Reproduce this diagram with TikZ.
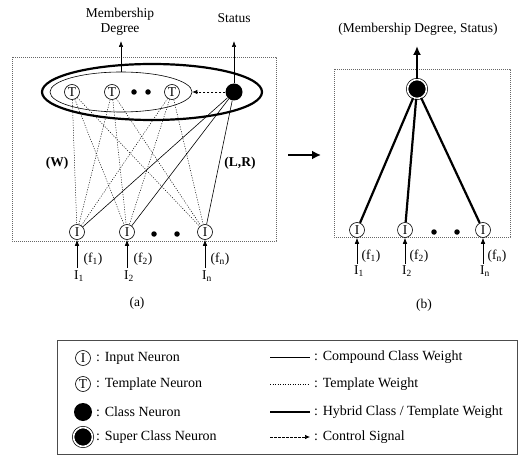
\documentclass[tikz,border=0pt]{standalone}
\usepackage{fontspec}
\setmainfont{Liberation Serif}
\usetikzlibrary{arrows.meta,shapes.geometric}
\begin{document}
\begin{tikzpicture}[x=1pt,y=-1pt,
  txt/.style={inner sep=0pt, font=\fontsize{13.5}{15}\selectfont},
  bftxt/.style={inner sep=0pt, font=\fontsize{13.5}{15}\selectfont\bfseries},
  lgtxt/.style={inner sep=0pt, anchor=west, font=\fontsize{14}{16}\selectfont},
  neur/.style={circle, draw, fill=white, line width=0.6pt, minimum size=15pt, inner sep=0pt, font=\fontsize{13.5}{13.5}\selectfont},
  clsn/.style={circle, fill=black, minimum size=17pt, inner sep=0pt},
  supn/.style={circle, fill=black, draw=black, line width=0.7pt, double=white, double distance=1.6pt, minimum size=19pt, inner sep=0pt},
  dotn/.style={circle, fill=black, minimum size=5.5pt, inner sep=0pt},
  frame/.style={draw=black!60, line width=0.6pt, dash pattern=on 0.7pt off 1.3pt},
  tw/.style={line width=0.5pt, dash pattern=on 1pt off 1.5pt},
  cw/.style={line width=0.6pt},
  hw/.style={line width=2.2pt},
  arr/.style={-{Latex[length=6pt,width=4.5pt]}, line width=0.6pt},
  ctrl/.style={dash pattern=on 2.5pt off 1.5pt, line width=0.7pt, -{Latex[length=5pt,width=4.5pt]}}
]
\useasboundingbox (0,0) rectangle (519,457);

% ---------------- panel (a) ----------------
\draw[frame] (12,57) rectangle (276,241);
\node[ellipse, draw, line width=2.2pt, minimum width=220pt, minimum height=56pt, inner sep=0pt] (outer) at (152,92) {};
\node[ellipse, draw, line width=0.6pt, minimum width=142pt, minimum height=40pt, inner sep=0pt] (inner) at (121,92) {};

\node[neur] (t1) at (72,92) {T};
\node[neur] (t2) at (112,92) {T};
\node[neur] (t3) at (172,92) {T};
\node[dotn] (td1) at (134,92) {};
\node[dotn] (td2) at (148,92) {};
\node[clsn] (c) at (234,92) {};

\node[neur] (i1) at (77,232) {I};
\node[neur] (i2) at (127,232) {I};
\node[neur] (i3) at (205,232) {I};
\node[dotn] (id1) at (154,234) {};
\node[dotn] (id2) at (177,234) {};

\foreach \t in {t1,t2,t3}{
  \foreach \i in {i1,i2,i3}{
    \draw[tw] (\t) -- (\i);
  }
}
\foreach \i in {i1,i2,i3}{
  \draw[cw] (c) -- (\i);
}
\draw[ctrl] (c) -- (inner.east);

\node[txt, align=center] (md) at (120,22) {Membership\\Degree};
\node[txt] (st) at (234,18) {Status};
\coordinate (mdtip) at (121,41);
\coordinate (sttip) at (234,41);
\draw[arr] (inner.north) -- (mdtip);
\draw[arr] (c) -- (sttip);

\node[bftxt] (w) at (57,163) {(W)};
\node[bftxt] (lr) at (240,163) {(L,R)};

\coordinate (a1) at (77,268);
\coordinate (a2) at (127,268);
\coordinate (a3) at (205,268);
\draw[arr] (a1) -- (i1);
\draw[arr] (a2) -- (i2);
\draw[arr] (a3) -- (i3);
\node[txt] (fa1) at (93,259) {(f\textsubscript{1})};
\node[txt] (fa2) at (143,259) {(f\textsubscript{2})};
\node[txt] (fa3) at (220,259) {(f\textsubscript{n})};
\node[txt] (ia1) at (79,276) {I\textsubscript{1}};
\node[txt] (ia2) at (129,276) {I\textsubscript{2}};
\node[txt] (ia3) at (207,276) {I\textsubscript{n}};
\node[txt] (la) at (137,303) {(a)};

% ---------------- transition arrow ----------------
\coordinate (bigs) at (288,155);
\coordinate (bige) at (321,155);
\draw[line width=2.4pt, -{Latex[length=9pt,width=9pt]}] (bigs) -- (bige);

% ---------------- panel (b) ----------------
\draw[frame] (334,69) rectangle (510,237);
\node[supn] (s) at (417,89) {};
\node[neur] (j1) at (357,230) {I};
\node[neur] (j2) at (405,230) {I};
\node[neur] (j3) at (483,230) {I};
\node[dotn] (jd1) at (434,232) {};
\node[dotn] (jd2) at (457,232) {};
\foreach \i in {j1,j2,j3}{
  \draw[hw] (s) -- (\i);
}
\node[txt] (msb) at (418,29) {(Membership Degree, Status)};
\coordinate (stip) at (417,46);
\draw[line width=2pt, -{Latex[length=9pt,width=8pt]}] (s) -- (stip);

\coordinate (b1) at (357,264);
\coordinate (b2) at (405,264);
\coordinate (b3) at (483,264);
\draw[arr] (b1) -- (j1);
\draw[arr] (b2) -- (j2);
\draw[arr] (b3) -- (j3);
\node[txt] (fb1) at (371,256) {(f\textsubscript{1})};
\node[txt] (fb2) at (419,256) {(f\textsubscript{2})};
\node[txt] (fb3) at (497,256) {(f\textsubscript{n})};
\node[txt] (ib1) at (359,271) {I\textsubscript{1}};
\node[txt] (ib2) at (407,271) {I\textsubscript{2}};
\node[txt] (ib3) at (485,271) {I\textsubscript{n}};
\node[txt] (lb) at (424,305) {(b)};

% ---------------- legend ----------------
\draw[draw=black!70, line width=0.7pt] (57,340) rectangle (517,454);
\node[neur] (lgI) at (83,358) {I};
\node[neur] (lgT) at (83,384) {T};
\node[clsn, minimum size=18pt] (lgC) at (83,412) {};
\node[supn] (lgS) at (83,437) {};
\node[lgtxt] (lgIt) at (96,358) {: Input Neuron};
\node[lgtxt] (lgTt) at (96,384) {: Template Neuron};
\node[lgtxt] (lgCt) at (96,412) {: Class Neuron};
\node[lgtxt] (lgSt) at (96,437) {: Super Class Neuron};

\coordinate (l1s) at (270,357); \coordinate (l1e) at (310,357);
\coordinate (l2s) at (270,384); \coordinate (l2e) at (310,384);
\coordinate (l3s) at (270,412); \coordinate (l3e) at (310,412);
\coordinate (l4s) at (270,437); \coordinate (l4e) at (310,437);
\draw[cw] (l1s) -- (l1e);
\draw[tw] (l2s) -- (l2e);
\draw[hw] (l3s) -- (l3e);
\draw[ctrl] (l4s) -- (l4e);
\node[lgtxt] (l1t) at (314,357) {: Compound Class Weight};
\node[lgtxt] (l2t) at (314,384) {: Template Weight};
\node[lgtxt] (l3t) at (314,412) {: Hybrid Class / Template Weight};
\node[lgtxt] (l4t) at (314,437) {: Control Signal};
\end{tikzpicture}
\end{document}
